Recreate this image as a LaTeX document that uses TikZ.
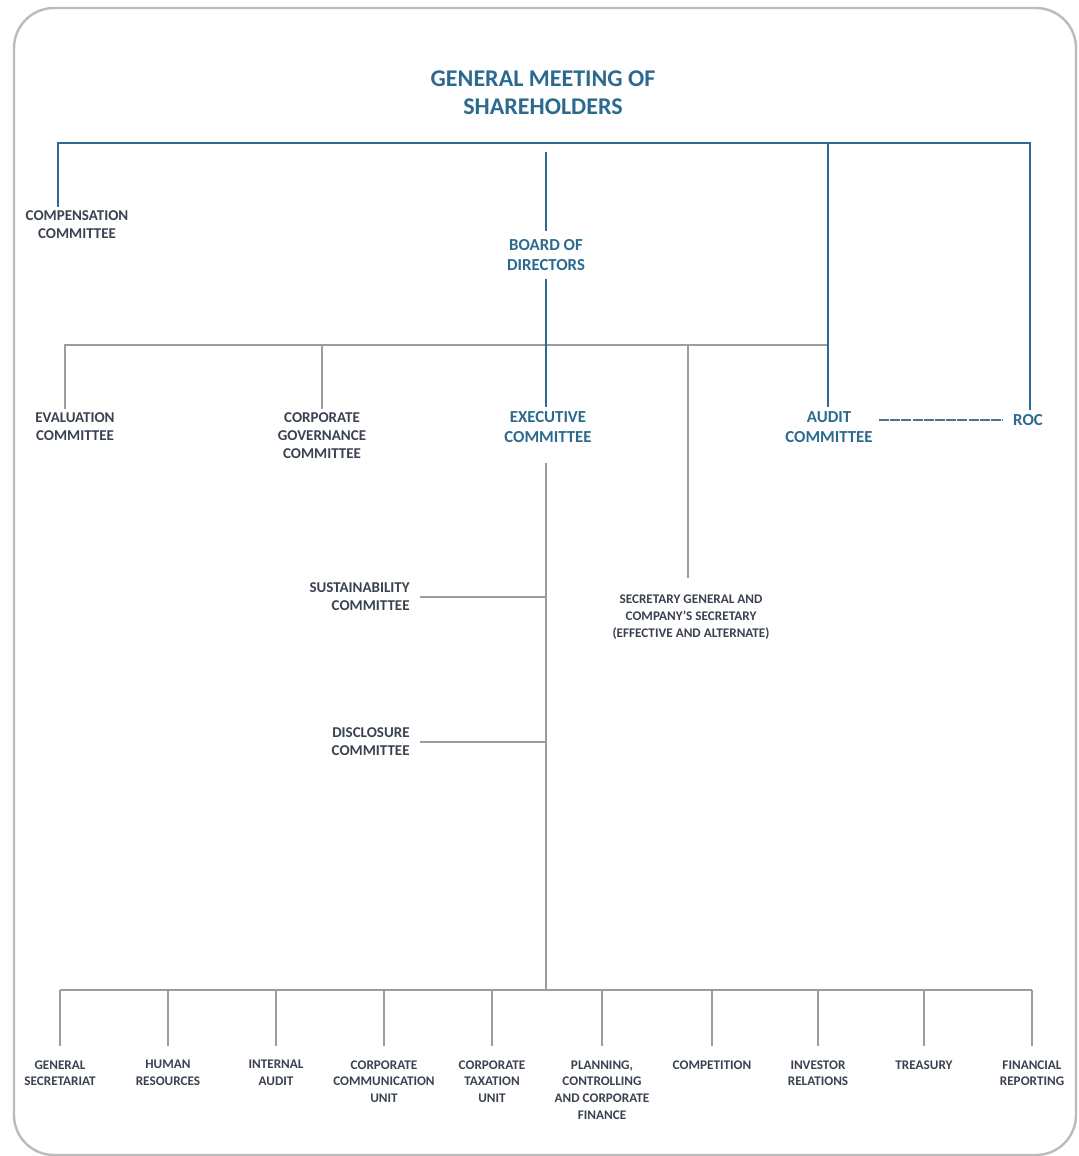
\documentclass[tikz,border=0pt]{standalone}
\usepackage{fontspec}
\setmainfont{Carlito}
\usetikzlibrary{arrows.meta}
\definecolor{orgblue}{HTML}{2B6A8E}
\definecolor{orgtext}{HTML}{3A4250}
\definecolor{orggray}{HTML}{9C9C9C}
\definecolor{framegray}{HTML}{BBBBBB}
\tikzset{
  unit/.style={font=\fontsize{7.5}{9}\selectfont\bfseries, text=orgtext, align=center, inner sep=2pt},
  head/.style={font=\fontsize{8.4}{10}\selectfont\bfseries, text=orgblue, align=center, inner sep=2pt},
  dept/.style={font=\fontsize{6.6}{8.4}\selectfont\bfseries, text=orgtext, align=center, inner sep=2pt},
  blueline/.style={draw=orgblue, line width=1.4pt},
  grayline/.style={draw=orggray, line width=1pt},
}
\begin{document}
\begin{tikzpicture}[x=0.5pt,y=-0.5pt]
\useasboundingbox (0,0) rectangle (1078,1156);
\draw[framegray, line width=1.2pt, rounded corners=20pt] (14,8) rectangle (1076,1155);

% top of the chart
\node[head, font=\fontsize{12}{14}\selectfont\bfseries] (gms) at (543,93) {GENERAL MEETING OF\\SHAREHOLDERS};
\node[unit] (comp) at (77,225) {COMPENSATION\\COMMITTEE};
\node[head] (board) at (546,255) {BOARD OF\\DIRECTORS};

% committees
\node[unit] (eval) at (75,427) {EVALUATION\\COMMITTEE};
\node[unit] (cgc) at (322,436) {CORPORATE\\GOVERNANCE\\COMMITTEE};
\node[head] (exec) at (548,427) {EXECUTIVE\\COMMITTEE};
\node[head] (audit) at (829,427) {AUDIT\\COMMITTEE};
\node[head] (roc) at (1028,420) {ROC};
\node[unit, anchor=east, align=right] (sust) at (414,597) {SUSTAINABILITY\\COMMITTEE};
\node[unit, anchor=east, align=right] (discl) at (414,742) {DISCLOSURE\\COMMITTEE};
\node[dept] (secg) at (691,617) {SECRETARY GENERAL AND\\COMPANY'S SECRETARY\\(EFFECTIVE AND ALTERNATE)};

% bus points
\coordinate (tl) at (58,143);
\coordinate (tr) at (1030,143);
\coordinate (ta) at (828,143);
\coordinate (tb) at (546,152);
\coordinate (ml) at (65,345);
\coordinate (mr) at (828,345);
\coordinate (ms) at (688,345);
\coordinate (bl) at (60,990);
\coordinate (br) at (1032,990);
\coordinate (bc) at (546,990);

% gray lines
\draw[grayline] (ml |- eval.north) -- (ml) -- (mr);
\draw[grayline] (cgc.north |- ml) -- (cgc.north);
\draw[grayline, shorten >=6pt] (ms) -- (ms |- secg.north);
\draw[grayline, shorten <=8pt] (exec.south -| bc) -- (bc);
\draw[grayline, shorten <=3pt] (sust.east) -- (sust.east -| bc);
\draw[grayline, shorten <=3pt] (discl.east) -- (discl.east -| bc);
\draw[grayline] (bl) -- (br);

% blue lines
\draw[blueline] (comp.north -| tl) -- (tl) -- (tr) -- (tr |- roc.north);
\draw[blueline] (ta) -- (ta |- audit.north);
\draw[blueline, shorten >=2pt] (tb) -- (board.north);
\draw[blueline, shorten <=2pt] (board.south) -- (board.south |- exec.north);
\draw[orgblue!60!gray, line width=0.6pt, dash pattern=on 5pt off 0.6pt, shorten <=1pt, shorten >=3pt] (roc.west -| audit.east) -- (roc.west);

% departments
\foreach \x/\nm/\txt in {60/gsec/{GENERAL\\SECRETARIAT}, 168/hres/{HUMAN\\RESOURCES},
  276/iaud/{INTERNAL\\AUDIT}, 384/ccom/{CORPORATE\\COMMUNICATION\\UNIT},
  492/ctax/{CORPORATE\\TAXATION\\UNIT}, 602/plan/{PLANNING,\\CONTROLLING\\AND CORPORATE\\FINANCE},
  712/compt/{COMPETITION}, 818/invr/{INVESTOR\\RELATIONS},
  924/treas/{TREASURY}, 1032/finr/{FINANCIAL\\REPORTING}}
{
  \node[dept, anchor=north] (\nm) at (\x,1056) {\txt};
  \draw[grayline, shorten >=5pt] (\nm.north |- bl) -- (\nm.north);
}
\end{tikzpicture}
\end{document}
